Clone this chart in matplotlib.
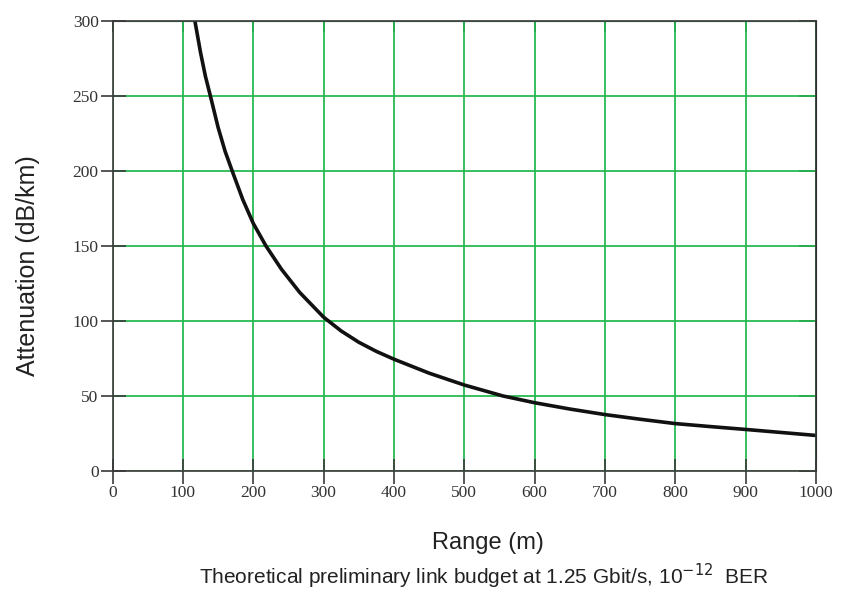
import matplotlib.pyplot as plt

# Values (range in m, attenuation in dB/km)
range_m = [117, 125, 132, 139, 150, 160, 170, 185, 200, 218, 240, 266,
           300, 325, 350, 375, 400, 450, 500, 555, 600, 650, 700, 750, 800,
           850, 900, 950, 1000]
attenuation = [300, 279, 263, 250, 229, 213, 200, 181, 165, 150, 134.5, 119,
               102.5, 93.3, 85.8, 79.7, 74.5, 65.2, 57.3, 50, 45.5, 41.3, 37.6,
               34.5, 31.6, 29.6, 27.7, 25.7, 23.7]

x_ticks = [0, 100, 200, 300, 400, 500, 600, 700, 800, 900, 1000]
y_ticks = [0, 50, 100, 150, 200, 250, 300]

GRID = '#22b84c'
SPINE = '#3a3a3a'

fig = plt.figure(figsize=(8.43, 5.91), dpi=100, facecolor='white')
ax = fig.add_axes([0.1335, 0.203, 0.8345, 0.762])

ax.grid(True, color=GRID, linewidth=1.4, alpha=0.9)
ax.set_axisbelow(True)
ax.plot(range_m, attenuation, color='#111111', linewidth=2.6,
        solid_joinstyle='round')

ax.set_xlim(0, 1000)
ax.set_ylim(0, 300)
ax.set_xticks(x_ticks)
ax.set_yticks(y_ticks)

for s in ax.spines.values():
    s.set_color(SPINE)
    s.set_linewidth(1.2)

tick_font = dict(family='Liberation Serif', size=12.5)
ax.set_xticklabels([str(v) for v in x_ticks], fontdict=tick_font, color='#333333')
ax.set_yticklabels([str(v) for v in y_ticks], fontdict=tick_font, color='#333333')
ax.tick_params(direction='inout', length=18, width=1.2, color=SPINE, pad=1)

# inward-only ticks on top and right
top = ax.secondary_xaxis('top')
top.set_xticks(x_ticks)
top.tick_params(direction='in', length=8, width=1.2, color=SPINE, labeltop=False)
right = ax.secondary_yaxis('right')
right.set_yticks(y_ticks)
right.tick_params(direction='in', length=12, width=1.2, color=SPINE, labelright=False)

fig.text(0.033, 0.55, 'Attenuation (dB/km)', family='Liberation Sans', fontsize=18,
         color='#222222', rotation=90, ha='center', va='center')
fig.text(0.579, 0.081, 'Range (m)', family='Liberation Sans', fontsize=17, color='#222222',
         ha='center', va='center')
fig.text(0.574, 0.024, r'Theoretical preliminary link budget at 1.25 Gbit/s, 10$^{\mathrm{-12}}$  BER',
         family='Liberation Sans', fontsize=15, color='#222222', ha='center', va='center')

fig.savefig('out.png', dpi=100)
